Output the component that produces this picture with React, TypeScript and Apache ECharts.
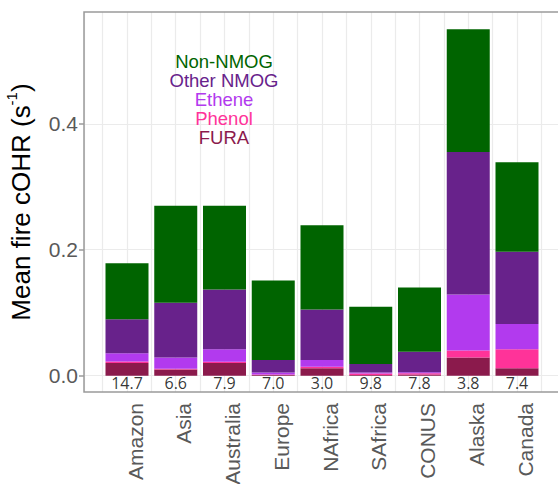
import React, { useEffect, useRef } from "react";
import * as echarts from "echarts";

const categories = ["Amazon", "Asia", "Australia", "Europe", "NAfrica", "SAfrica", "CONUS", "Alaska", "Canada"];
const fura = [0.020, 0.010, 0.020, 0.001, 0.012, 0.001, 0.002, 0.029, 0.012];
const phenol = [0.0025, 0.001, 0.002, 0.001, 0.002, 0.0025, 0.002, 0.011, 0.030];
const ethene = [0.013, 0.018, 0.020, 0.003, 0.011, 0.0015, 0.0015, 0.089, 0.040];
const otherNmog = [0.054, 0.087, 0.095, 0.020, 0.080, 0.0136, 0.0326, 0.226, 0.115];
const nonNmog = [0.089, 0.154, 0.133, 0.126, 0.134, 0.091, 0.102, 0.195, 0.142];
const ratioLabels = ["14.7", "6.6", "7.9", "7.0", "3.0", "9.8", "7.8", "3.8", "7.4"];
const yTickValues = [0, 0.2, 0.4];

const seriesNames = ["FURA", "Phenol", "Ethene", "Other NMOG", "Non-NMOG"];
const seriesData = [fura, phenol, ethene, otherNmog, nonNmog];
const seriesColors = ["#8b1a4c", "#ff3399", "#b23aee", "#68228b", "#006400"];
const legendOrder = ["Non-NMOG", "Other NMOG", "Ethene", "Phenol", "FURA"];

const FONT = "'Liberation Sans', Arial, sans-serif";
const Y_MIN = -0.0259;
const Y_MAX = 0.5775;
const X_MIN = 0.118;
const X_MAX = 9.882;

export default function App() {
  const ref = useRef<HTMLDivElement>(null);
  useEffect(() => {
    if (!ref.current) return;
    const chart = echarts.init(ref.current, undefined, { renderer: "svg" });
    const colorOf = (n: string) => seriesColors[seriesNames.indexOf(n)];
    const option: any = {
      animation: false,
      backgroundColor: "#ffffff",
      grid: [
        { left: 84, top: 12, width: 476, height: 380, show: true, borderColor: "#9a9a9a", borderWidth: 1.5, backgroundColor: "transparent", z: 3, outerBoundsMode: "none", containLabel: false },
        { left: 102.625, top: 12, width: 438.75, height: 380, outerBoundsMode: "none", containLabel: false },
      ],
      xAxis: [
        {
          type: "value", gridIndex: 0, min: X_MIN, max: X_MAX, splitNumber: 20,
          axisLine: { show: false }, axisTick: { show: false }, axisLabel: { show: false },
          splitLine: { show: true, lineStyle: { color: "#ebebeb", width: 1.2 } },
        },
        {
          type: "category", gridIndex: 1, data: categories,
          axisLine: { show: false }, axisTick: { show: false }, splitLine: { show: false },
          axisLabel: {
            rotate: 90, margin: 11, fontSize: 21, lineHeight: 16, color: "#595959", fontFamily: FONT,
            verticalAlign: "top",
          },
        },
      ],
      yAxis: [
        {
          type: "value", gridIndex: 0, min: Y_MIN, max: Y_MAX, splitNumber: 6,
          axisLine: { show: false },
          axisTick: { show: true, length: 5, customValues: yTickValues, lineStyle: { color: "#9a9a9a", width: 1.5 } },
          axisLabel: {
            customValues: yTickValues, fontSize: 21, color: "#595959", fontFamily: FONT, margin: 6,
            formatter: (v: number) => v.toFixed(1),
          },
          splitLine: { show: true, lineStyle: { color: "#ebebeb", width: 1.2 } },
          name: "{a|Mean fire cOHR (s}{sup|-1}{a|)}",
          nameLocation: "middle",
          nameGap: 50,
          nameTextStyle: {
            rich: {
              a: { fontSize: 26, color: "#000", fontFamily: FONT, lineHeight: 30, verticalAlign: "bottom" },
              sup: { fontSize: 15, color: "#000", fontFamily: FONT, lineHeight: 30, verticalAlign: "top" },
            },
          },
        },
        {
          type: "value", gridIndex: 1, min: Y_MIN, max: Y_MAX, show: false,
          splitLine: { show: false },
        },
      ],
      series: [
        ...seriesNames.map((name, i) => ({
          name, type: "bar", stack: "total", xAxisIndex: 1, yAxisIndex: 1,
          barWidth: 43, data: seriesData[i], itemStyle: { color: seriesColors[i] }, z: 2,
        })),
        {
          type: "scatter", xAxisIndex: 1, yAxisIndex: 1, symbolSize: 0.1,
          itemStyle: { color: "transparent" },
          data: ratioLabels.map((_, i) => [i, -0.012]),
          label: {
            show: true, position: "inside", color: "#000", fontSize: 16,
            fontFamily: "'Open Sans', sans-serif",
            formatter: (p: any) => ratioLabels[p.dataIndex],
          },
          z: 5,
        },
      ],
      graphic: legendOrder.map((n, i) => ({
        type: "text", x: 224, y: 61 + i * 19, z: 10,
        style: {
          text: n, fill: colorOf(n), fontSize: 18.5, lineHeight: 18, fontFamily: FONT,
          textAlign: "center", textVerticalAlign: "middle", verticalAlign: "middle",
        },
      })),
    };
    chart.setOption(option);
    return () => chart.dispose();
  }, []);
  return <div ref={ref} style={{ position: "absolute", left: 0, top: 0, width: 558, height: 484 }} />;
}
